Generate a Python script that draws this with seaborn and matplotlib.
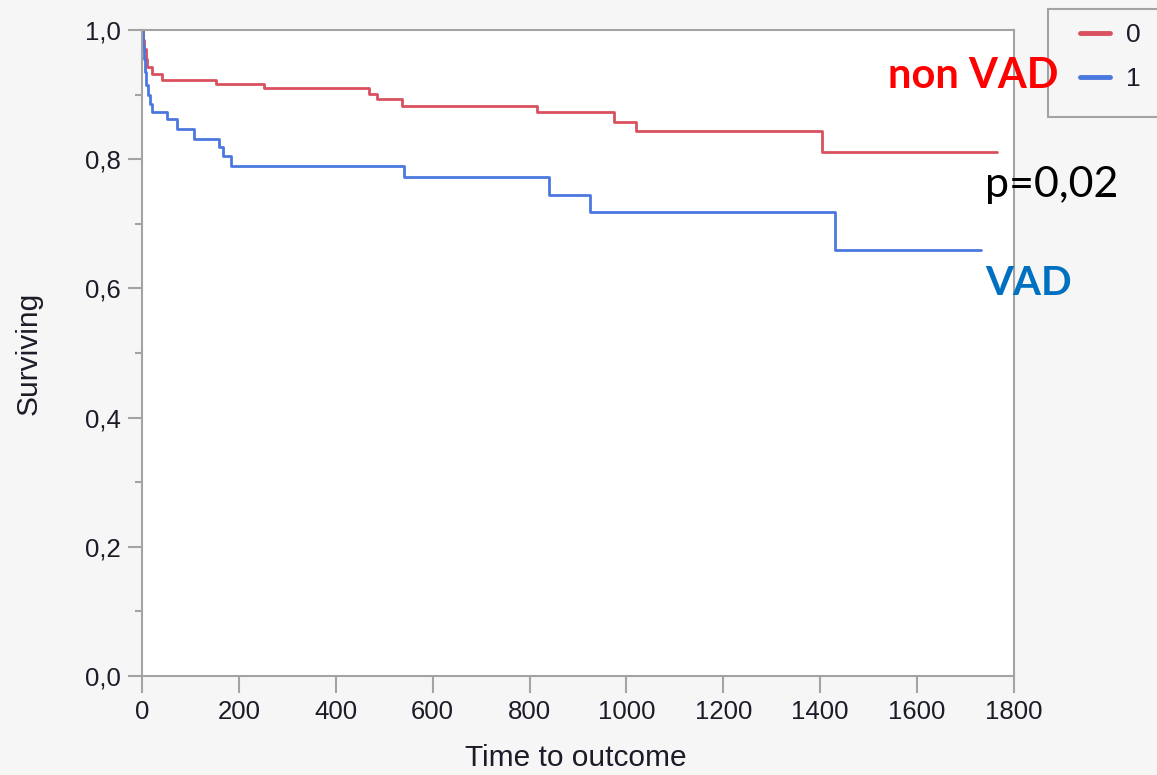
import pandas as pd
import matplotlib
matplotlib.use("Agg")
import matplotlib.pyplot as plt
from matplotlib.lines import Line2D
from matplotlib.patches import Rectangle
from matplotlib.ticker import FuncFormatter, MultipleLocator
import seaborn as sns

sns.set_style("white")
plt.rcParams['font.family'] = ['Liberation Sans', 'DejaVu Sans']

# Kaplan-Meier step data
time_nonvad = [0, 2, 5, 8, 10, 21, 41, 153, 252, 469, 485, 537, 815, 974, 1020, 1404, 1765]
surv_nonvad = [1.0, 0.985, 0.97, 0.955, 0.942, 0.932, 0.923, 0.917, 0.910, 0.901, 0.893,
               0.882, 0.873, 0.857, 0.843, 0.811, 0.811]
time_vad = [0, 2, 4, 6, 9, 12, 16, 21, 52, 72, 107, 159, 168, 184, 541, 840, 924, 1430, 1731]
surv_vad = [1.0, 0.975, 0.955, 0.935, 0.915, 0.90, 0.885, 0.873, 0.862, 0.847, 0.831,
            0.819, 0.805, 0.790, 0.772, 0.745, 0.718, 0.659, 0.659]

groups = ["0", "1"]
colors = {"0": "#d9505e", "1": "#4b78df"}
xticks = [0, 200, 400, 600, 800, 1000, 1200, 1400, 1600, 1800]
yticks = [0.0, 0.2, 0.4, 0.6, 0.8, 1.0]

df = pd.concat([
    pd.DataFrame({"time": time_nonvad, "surv": surv_nonvad, "group": "0"}),
    pd.DataFrame({"time": time_vad, "surv": surv_vad, "group": "1"}),
])

W, H = 1157, 775
fig = plt.figure(figsize=(W / 100, H / 100), dpi=100, facecolor="#f6f6f6")
ax = fig.add_axes([142 / W, 1 - 676 / H, 872 / W, 646 / H])
ax.set_facecolor("white")

sns.lineplot(data=df, x="time", y="surv", hue="group", palette=colors,
             estimator=None, drawstyle="steps-post", linewidth=2.0,
             legend=False, ax=ax)

ax.set_xlim(0, 1800)
ax.set_ylim(0, 1.0)
ax.set_xticks(xticks)
ax.set_yticks(yticks)
ax.yaxis.set_minor_locator(MultipleLocator(0.1))
ax.yaxis.set_major_formatter(FuncFormatter(lambda v, p: f"{v:.1f}".replace(".", ",")))

grey = "#a3a3a3"
txt = "#1c1c28"
for s in ax.spines.values():
    s.set_color(grey)
    s.set_linewidth(1.5)
ax.tick_params(axis="both", which="major", direction="out", color=grey, width=1.5,
               labelsize=18.5, labelcolor=txt, left=True, bottom=True)
ax.tick_params(axis="y", which="major", length=10, pad=5)
ax.tick_params(axis="x", which="major", length=12, pad=5)
ax.tick_params(axis="y", which="minor", direction="out", length=5, width=1.5, color=grey, left=True)

ax.set_xlabel("Time to outcome", fontsize=21.5, color=txt)
ax.set_ylabel("Surviving", fontsize=21.5, color=txt)
ax.xaxis.set_label_coords(0.497, -0.105)
ax.yaxis.set_label_coords(-0.114, 0.5)

# legend box, partly cut off at the right edge like the original
fig.patches.append(Rectangle((1048 / W, 1 - 117 / H), 130 / W, 108 / H,
                             transform=fig.transFigure, facecolor="#f6f6f6",
                             edgecolor=grey, linewidth=1.5, zorder=1))
handles = [Line2D([], [], color=colors[g], lw=3.5) for g in groups]
leg = fig.legend(handles, groups, loc="center left",
                 bbox_to_anchor=(1080 / W, 1 - 57 / H), frameon=False,
                 fontsize=19, handlelength=1.15, handletextpad=0.6,
                 labelspacing=0.75, borderpad=0, borderaxespad=0)
for t in leg.get_texts():
    t.set_color(txt)

ann = ['Lato', 'DejaVu Sans']
fig.text(888 / W, 1 - 88 / H, "non VAD", color="#ff0000", fontsize=30,
         fontweight="bold", family=ann, ha="left", va="baseline", zorder=5)
fig.text(985 / W, 1 - 197 / H, "p=0,02", color="black", fontsize=31,
         family=ann, ha="left", va="baseline")
fig.text(985 / W, 1 - 295 / H, "VAD", color="#0070c0", fontsize=29,
         fontweight="bold", family=ann, ha="left", va="baseline")

fig.savefig("out.png", dpi=100, facecolor=fig.get_facecolor())
